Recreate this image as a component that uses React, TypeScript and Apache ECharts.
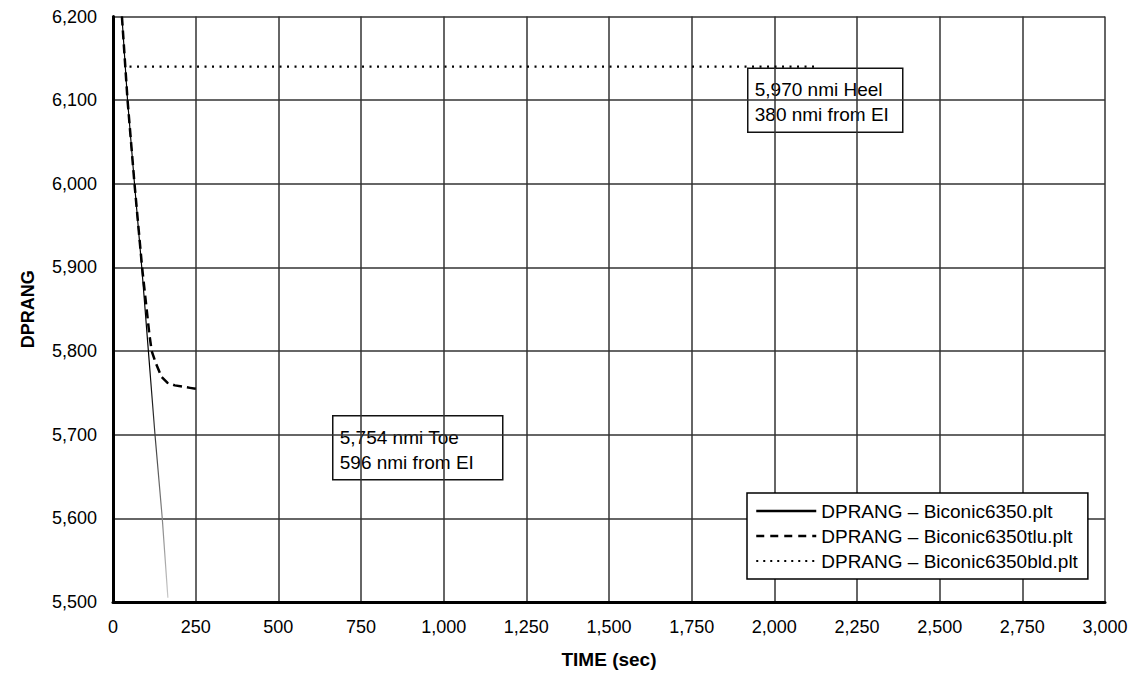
import React, { useEffect, useRef } from "react";
import * as echarts from "echarts";

const xTicksMin = 0;
const xTicksMax = 3000;
const xInterval = 250;
const yMin = 5500;
const yMax = 6200;
const yInterval = 100;

const seriesNames = [
  "DPRANG \u2013 Biconic6350.plt",
  "DPRANG \u2013 Biconic6350tlu.plt",
  "DPRANG \u2013 Biconic6350bld.plt",
];

const solidTime = [27, 44, 65, 87, 107, 127, 149, 166];
const solidRange = [6200, 6100, 6000, 5900, 5800, 5700, 5600, 5505];

const dashedTime = [27, 44, 65, 88, 110, 117, 130, 147, 165, 187, 233, 263];
const dashedRange = [6200, 6100, 6000, 5900, 5820, 5800, 5785, 5769, 5762, 5759, 5756, 5754];

const dottedTime = [50, 2126];
const dottedRange = [6140, 6140];

const heelNote = ["5,970 nmi Heel", "380 nmi from EI"];
const toeNote = ["5,754 nmi Toe", "596 nmi from EI"];

const fmt = (v: number) => v.toLocaleString("en-US");
const zip = (xs: number[], ys: number[]) => xs.map((x, i) => [x, ys[i]]);

const FONT = "'Liberation Sans', Arial, sans-serif";

export default function App() {
  const ref = useRef<HTMLDivElement>(null);
  useEffect(() => {
    if (!ref.current) return;
    const chart = echarts.init(ref.current, null, { renderer: "svg" });
    const noteText = (lines: string[]) => lines.join("\n");
    const hidden = { opacity: 0 };
    chart.setOption({
      animation: false,
      backgroundColor: "#ffffff",
      grid: { left: 113, right: 39, top: 16.5, bottom: 75, show: false },
      xAxis: {
        type: "value",
        min: xTicksMin,
        max: xTicksMax,
        interval: xInterval,
        name: "TIME (sec)",
        nameLocation: "middle",
        nameGap: 48,
        nameTextStyle: { fontFamily: FONT, fontWeight: "bold", fontSize: 19, color: "#000" },
        axisLine: { show: true, onZero: false, lineStyle: { color: "#000", width: 3 } },
        axisTick: { show: false },
        axisLabel: { formatter: (v: number) => fmt(v), fontFamily: FONT, fontSize: 18, color: "#000", margin: 16 },
        splitLine: { show: true, lineStyle: { color: "#333", width: 1.5 } },
      },
      yAxis: {
        type: "value",
        min: yMin,
        max: yMax,
        interval: yInterval,
        name: "DPRANG",
        nameLocation: "middle",
        nameGap: 76,
        nameTextStyle: { fontFamily: FONT, fontWeight: "bold", fontSize: 18, color: "#000" },
        axisLine: { show: true, onZero: false, lineStyle: { color: "#000", width: 3 } },
        axisTick: { show: false },
        axisLabel: { formatter: (v: number) => fmt(v), fontFamily: FONT, fontSize: 18, color: "#000", margin: 16 },
        splitLine: { show: true, lineStyle: { color: "#333", width: 1.5 } },
      },
      legend: {
        show: true,
        orient: "vertical",
        left: 747,
        top: 493,
        backgroundColor: "#fff",
        borderColor: "#000",
        borderWidth: 1.5,
        borderRadius: 0,
        padding: [8, 10, 8, 8],
        itemGap: 5,
        itemWidth: 60,
        itemHeight: 14,
        textStyle: { fontFamily: FONT, fontSize: 19, color: "#000", lineHeight: 20 },
        data: [
          { name: seriesNames[0], itemStyle: hidden, lineStyle: { color: "#000", width: 2.5, type: "solid" } },
          { name: seriesNames[1], itemStyle: hidden, lineStyle: { color: "#000", width: 2.5, type: [8, 6] } },
          { name: seriesNames[2], itemStyle: hidden, lineStyle: { color: "#000", width: 2, type: [2, 5] } },
        ],
      },
      series: [
        {
          name: seriesNames[0],
          type: "line",
          data: zip(solidTime, solidRange),
          symbol: "none",
          z: 3,
          itemStyle: { color: "#000" },
          lineStyle: {
            width: 1.2,
            color: new echarts.graphic.LinearGradient(0, 0, 0, 1, [
              { offset: 0, color: "#000" },
              { offset: 0.6, color: "#000" },
              { offset: 1, color: "#c8c8c8" },
            ]),
          },
        },
        {
          name: seriesNames[1],
          type: "line",
          data: zip(dashedTime, dashedRange),
          symbol: "none",
          z: 4,
          itemStyle: { color: "#000" },
          lineStyle: { width: 2.5, color: "#000", type: [9, 5] },
        },
        {
          name: seriesNames[2],
          type: "line",
          data: zip(dottedTime, dottedRange),
          symbol: "none",
          z: 4,
          itemStyle: { color: "#000" },
          lineStyle: { width: 2.2, color: "#000", type: [2, 5.5] },
        },
      ],
      graphic: [
        {
          type: "group",
          left: 747,
          top: 67.5,
          z: 2,
          children: [
            { type: "rect", shape: { x: 0, y: 0, width: 155, height: 64 }, style: { fill: "#fff", stroke: "#111", lineWidth: 1.5 } },
            { type: "text", x: 7, y: 9, style: { text: noteText(heelNote), font: `19px ${FONT}`, fill: "#000", lineHeight: 25 } },
          ],
        },
        {
          type: "group",
          left: 332,
          top: 415,
          z: 2,
          children: [
            { type: "rect", shape: { x: 0, y: 0, width: 170, height: 64 }, style: { fill: "#fff", stroke: "#111", lineWidth: 1.5 } },
            { type: "text", x: 7, y: 9, style: { text: noteText(toeNote), font: `19px ${FONT}`, fill: "#000", lineHeight: 25 } },
          ],
        },
      ],
    });
    return () => chart.dispose();
  }, []);
  return <div ref={ref} style={{ width: 1144, height: 677, position: "absolute", left: 0, top: 0 }} />;
}
